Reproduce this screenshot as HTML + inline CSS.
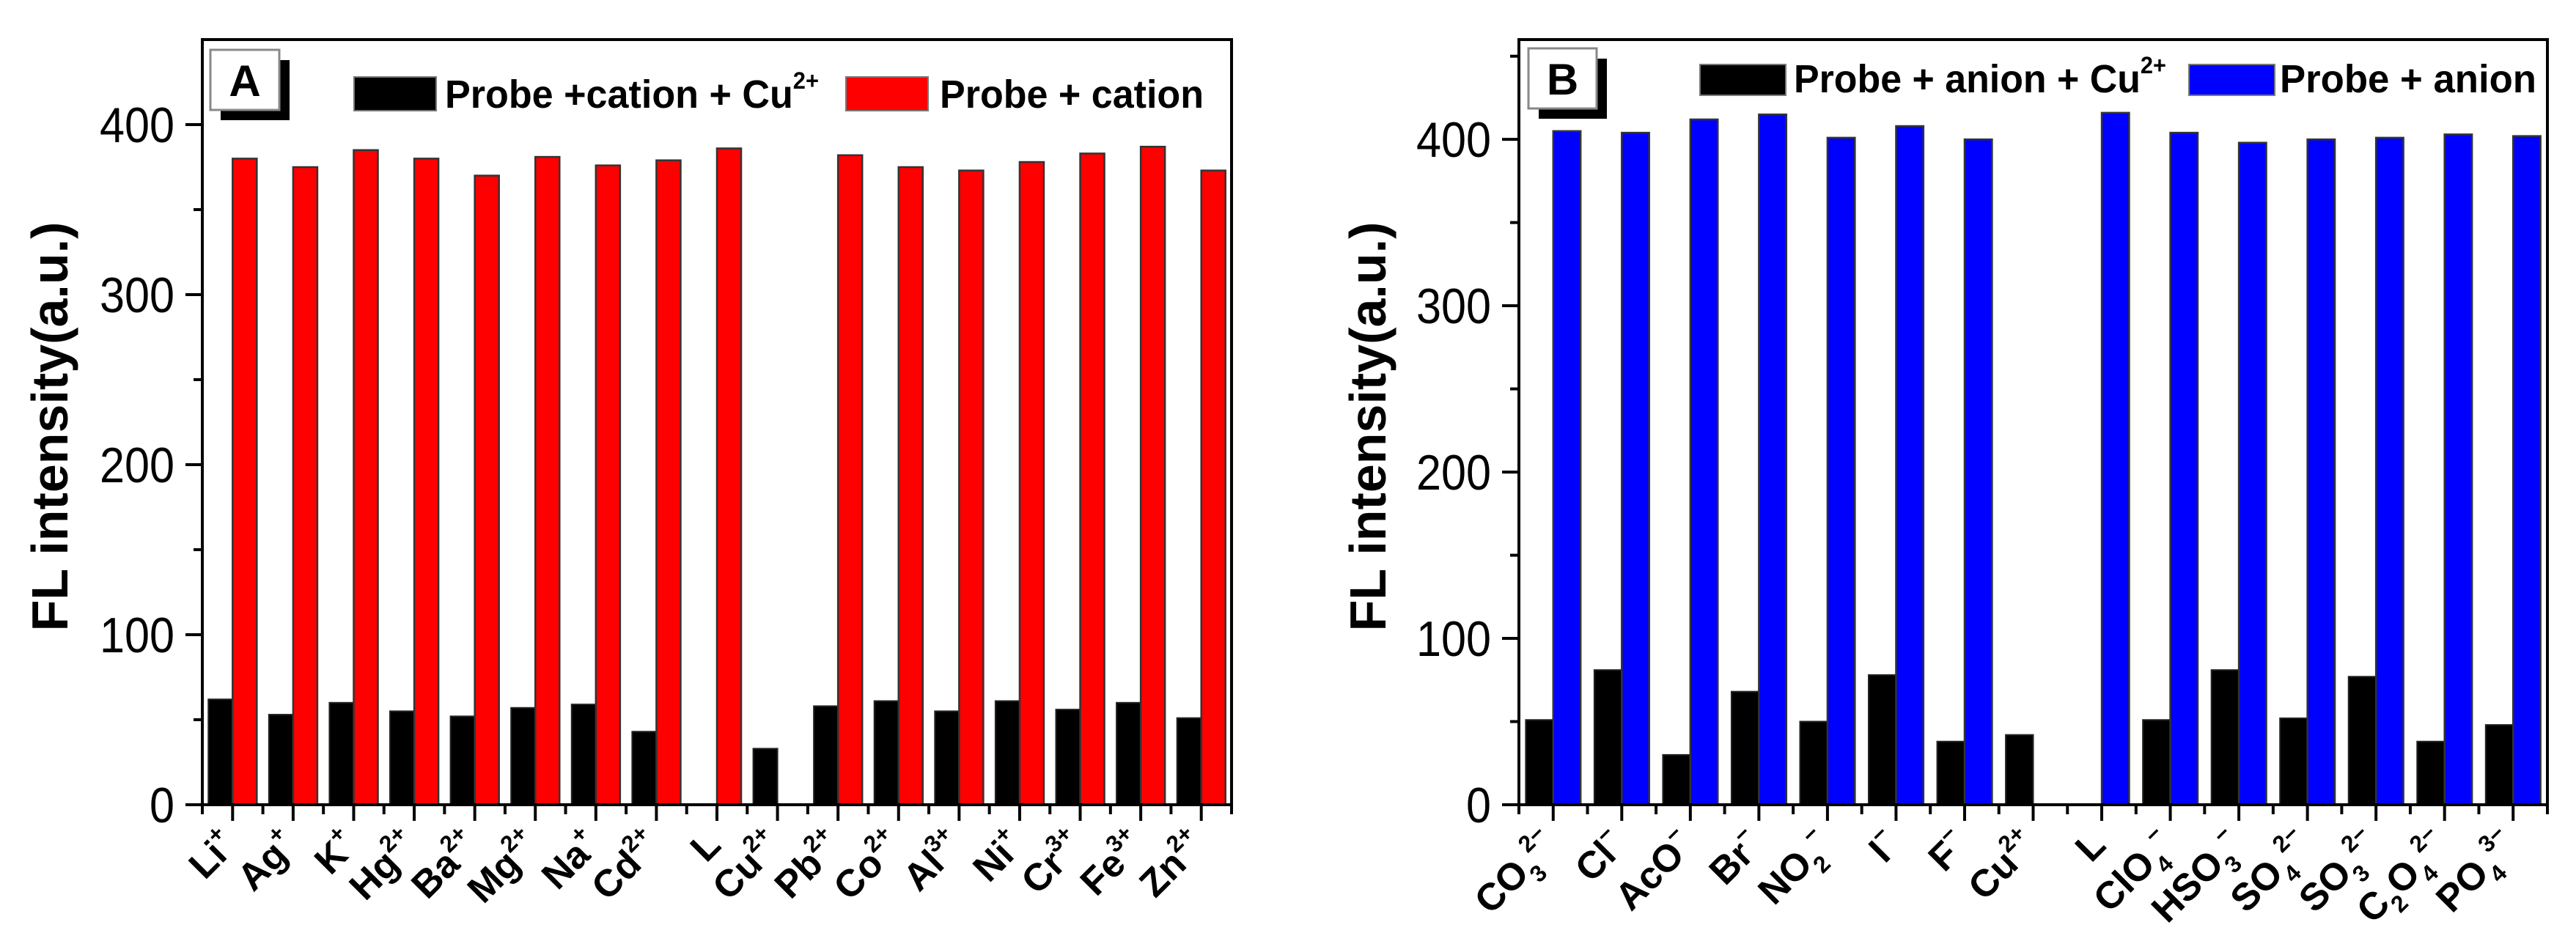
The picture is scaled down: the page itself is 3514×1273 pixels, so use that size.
<!DOCTYPE html>
<html><head><meta charset="utf-8">
<style>
html,body{margin:0;padding:0;background:#fff;}
svg{display:block;font-family:"Liberation Sans",Arial,sans-serif;}
</style></head>
<body>
<svg id="fig" width="3514" height="1273" viewBox="0 0 3514 1273" xmlns="http://www.w3.org/2000/svg"></svg>
<script>
// Panel A data
const catA = ["Li","Ag","K","Hg","Ba","Mg","Na","Cd","L","Cu","Pb","Co","Al","Ni","Cr","Fe","Zn"];
const supA = ["+","+","+","2+","2+","2+","+","2+","","2+","2+","2+","3+","+","3+","3+","2+"];
const subA = ["","","","","","","","","","","","","","","","",""];
const cuA = [62,53,60,55,52,57,59,43,0,33,58,61,55,61,56,60,51];
const ionA = [380,375,385,380,370,381,376,379,386,0,382,375,373,378,383,387,373];
const yTicksA = [0,100,200,300,400];
// Panel B data
const catB = ["CO","Cl","AcO","Br","NO","I","F","Cu","L","ClO","HSO","SO","SO","C","PO"];
const subB = ["3","","","","2","","","","","4","3","4","3","2","4"];
const mid2B = ["","","","","","","","","","","","","","O",""];
const sub2B = ["","","","","","","","","","","","","","4",""];
const supB = ["2−","−","−","−","−","−","−","2+","","−","−","2−","2−","2−","3−"];
const cuB = [51,81,30,68,50,78,38,42,0,51,81,52,77,38,48];
const ionB = [405,404,412,415,401,408,400,0,416,404,398,400,401,403,402];
const yTicksB = [0,100,200,300,400];

const NS="http://www.w3.org/2000/svg";
const svg=document.getElementById('fig');
function mk(tag,attrs,parent){const e=document.createElementNS(NS,tag);for(const k in attrs)e.setAttribute(k,attrs[k]);(parent||svg).appendChild(e);return e;}

function panel(p){
  const g=mk('g',{});
  
  
  const n=p.cats.length;
  const sp=(p.x1-p.x0)/n;
  const xc=i=>p.x0+(i+0.5)*sp;
  const yv=v=>p.y0-(v/p.ymax)*(p.y0-p.y1);
  const bw=sp*0.4;
  for(let i=0;i<n;i++){
    const hb=p.y0-yv(p.cu[i]);
    if(hb>0){const r=mk('rect',{x:xc(i)-bw,y:yv(p.cu[i]),width:bw,height:hb,fill:'#000',stroke:'#222','stroke-width':2},g);
    
    }
    const hi=p.y0-yv(p.ion[i]);
    if(hi>0){const r=mk('rect',{x:xc(i),y:yv(p.ion[i]),width:bw,height:hi,fill:p.color,stroke:'#333','stroke-width':2.5},g);
    
    }
  }
  const fr=mk('rect',{x:p.x0,y:p.y1,width:p.x1-p.x0,height:p.y0-p.y1,fill:'none',stroke:'#000','stroke-width':4},g);
  
  
  for(let v=0;v<p.ymax;v+=50){
    const major=(v%100===0);
    mk('line',{x1:p.x0-(major?23:12),x2:p.x0,y1:yv(v),y2:yv(v),stroke:'#000','stroke-width':4},g);
  }
  for(const v of p.yticks){
    const s=String(v);
    const t=mk('text',{x:p.x0-38,y:yv(v)+24,'font-size':68,'text-anchor':'end',fill:'#000',textLength:s.length*34,lengthAdjust:'spacingAndGlyphs'},g);
    t.textContent=s;
    
    
  }
  for(let i=0;i<=n;i++){
    mk('line',{x1:p.x0+i*sp,x2:p.x0+i*sp,y1:p.y0,y2:p.y0+13,stroke:'#000','stroke-width':4},g);
    if(i<n) mk('line',{x1:xc(i),x2:xc(i),y1:p.y0,y2:p.y0+22,stroke:'#000','stroke-width':4},g);
  }
  for(let i=0;i<n;i++){
    const cx=xc(i)+8, cy=p.y0+58;
    const t=mk('text',{x:cx,y:cy,'font-size':52,'font-weight':'bold','text-anchor':'end',transform:`rotate(-45 ${cx} ${cy})`},g);
    
    
    const parts=[[p.cats[i],0,52]];
    if(p.sub[i])parts.push([p.sub[i],-16,32]);
    if(p.mid2&&p.mid2[i])parts.push([p.mid2[i],0,52]);
    if(p.sub2&&p.sub2[i])parts.push([p.sub2[i],-16,32]);
    if(p.sup[i])parts.push([p.sup[i],24,32]);
    let base=0;
    for(const [txt,dy,fs] of parts){
      const s=mk('tspan',{dy:(-dy-base),'font-size':fs},t);
      base=-dy;
      s.textContent=txt;
    }
  }
  const tt=mk('text',{x:p.titleX,y:582,'font-size':70,'font-weight':'bold','text-anchor':'middle',transform:`rotate(-90 ${p.titleX} 582)`},g);
  tt.textContent='FL intensity(a.u.)';
  
  
  const lb=p.lbl;
  mk('rect',{x:lb.x+14,y:lb.y+14,width:lb.w,height:lb.h,fill:'#000'},g);
  const lr=mk('rect',{x:lb.x,y:lb.y,width:lb.w,height:lb.h,fill:'#fff',stroke:'#888','stroke-width':3},g);
  
  
  const lt=mk('text',{x:lb.x+lb.w/2,y:lb.y+lb.h/2+22,'font-size':60,'font-weight':'bold','text-anchor':'middle'},g);
  lt.textContent=p.letter;
  
  
  const L=p.leg;
  const s1=mk('rect',{x:L.s1,y:L.y,width:L.sw,height:L.sh,fill:'#000',stroke:'#777','stroke-width':2},g);
  
  
  const t1=mk('text',{x:L.t1,y:L.y+L.sh-4,'font-size':54,'font-weight':'bold',textLength:L.t1w,lengthAdjust:'spacingAndGlyphs'},g);
  
  
  const a=mk('tspan',{},t1);a.textContent=L.text1;
  const b=mk('tspan',{dy:-26,'font-size':32},t1);b.textContent='2+';
  const s2=mk('rect',{x:L.s2,y:L.y,width:L.sw,height:L.sh,fill:p.color,stroke:'#777','stroke-width':2},g);
  
  
  const t2=mk('text',{x:L.t2,y:L.y+L.sh-4,'font-size':54,'font-weight':'bold',textLength:L.t2w,lengthAdjust:'spacingAndGlyphs'},g);
  t2.textContent=L.text2;
  
  
}

panel({name:'panel-a-chart',x0:276,x1:1680,y0:1098,y1:54,ymax:450,cats:catA,sup:supA,sub:subA,cu:cuA,ion:ionA,yticks:yTicksA,color:'#ff0000',titleX:92,letter:'A',
  lbl:{x:287,y:68,w:94,h:82},
  leg:{y:105,sw:112,sh:46,s1:483,t1:607,t1w:510,s2:1154,t2:1282,t2w:360,text1:'Probe +cation + Cu',text2:'Probe + cation'}});
panel({name:'panel-b-chart',x0:2072,x1:3475,y0:1098,y1:54,ymax:460,cats:catB,sup:supB,sub:subB,mid2:mid2B,sub2:sub2B,cu:cuB,ion:ionB,yticks:yTicksB,color:'#0000ff',titleX:1890,letter:'B',
  lbl:{x:2085,y:66,w:93,h:82},
  leg:{y:88,sw:117,sh:42,s1:2319,t1:2447,t1w:508,s2:2986,t2:3110,t2w:350,text1:'Probe + anion + Cu',text2:'Probe + anion'}});
</script>
</body></html>
